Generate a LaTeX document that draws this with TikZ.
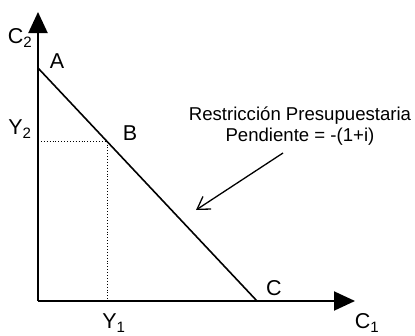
\documentclass[tikz,border=0pt]{standalone}
\usepackage{fontspec}
\setmainfont{Liberation Sans}
\usetikzlibrary{arrows.meta}
\begin{document}
\begin{tikzpicture}[x=1pt,y=-1pt,
  axis/.style={line width=2pt,-{Triangle[length=21pt,width=19pt]}},
  budget/.style={line width=1.6pt},
  guide/.style={line width=0.9pt,dotted},
  lbl/.style={font=\fontsize{21.5}{24}\selectfont,inner sep=0pt},
  note/.style={font=\fontsize{18.6}{21}\selectfont,align=center,inner sep=0pt},
  pointer/.style={line width=1.3pt,-{Straight Barb[length=12pt,width=15pt]}}]
\useasboundingbox (0,0) rectangle (415,335);
\coordinate (O) at (38,301);
\coordinate (Ytop) at (38,12);
\coordinate (Xend) at (355,301);
\coordinate (A) at (38,68);
\coordinate (C) at (257,301);
\coordinate (B) at (107,141);
\coordinate (B2) at (38,141);
\coordinate (B1) at (107,301);
\draw[axis] (O) -- (Ytop);
\draw[axis] (O) -- (Xend);
\draw[budget] (A) -- (C);
\draw[guide] (B2) -- (B) -- (B1);
\node[lbl] (lC2) at (20,38) {C\textsubscript{2}};
\node[lbl] (lA) at (57,61) {A};
\node[lbl] (lY2) at (20,129) {Y\textsubscript{2}};
\node[lbl] (lB) at (130,133) {B};
\node[lbl] (lY1) at (114,323) {Y\textsubscript{1}};
\node[lbl] (lC) at (274,288) {C};
\node[lbl] (lC1) at (367,323) {C\textsubscript{1}};
\node[note] (txt) at (300,126) {Restricción Presupuestaria\\Pendiente = -(1+i)};
\coordinate (ps) at (283,153);
\coordinate (pe) at (196,210);
\draw[pointer] (ps) -- (pe);
\end{tikzpicture}
\end{document}
